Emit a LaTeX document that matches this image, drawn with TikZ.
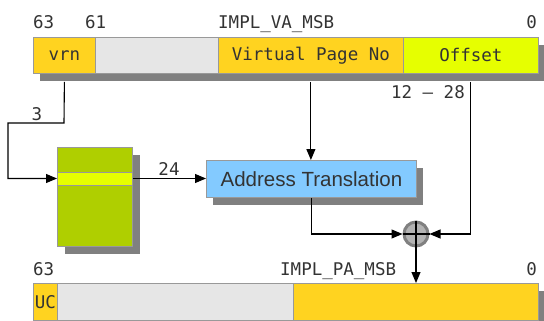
\documentclass[tikz,border=0pt]{standalone}
\usepackage{fontspec}
\setmainfont{Liberation Sans}
\newfontfamily\regfont{DejaVu Sans Mono}
\usetikzlibrary{arrows.meta}

\definecolor{gold}{HTML}{FFD320}
\definecolor{pale}{HTML}{E6E6E6}
\definecolor{lime}{HTML}{E6FF00}
\definecolor{olive}{HTML}{AFCF00}
\definecolor{sky}{HTML}{83CAFF}
\definecolor{shade}{HTML}{808080}
\definecolor{edge}{HTML}{999999}
\definecolor{ink}{HTML}{333333}

\tikzset{
  field/.style={draw=edge, line width=0.8pt, inner sep=0pt, text=ink,
    font=\regfont\fontsize{17.5}{20}\selectfont},
  bitlabel/.style={inner sep=0pt, text=ink, font=\regfont\fontsize{17.5}{20}\selectfont},
  wire/.style={draw=black, line width=1.1pt},
  arr/.style={wire, -{Triangle[length=11pt,width=9pt]}},
  shadowbox/.style={fill=shade, draw=none},
}

\begin{document}
\begin{tikzpicture}[x=1pt, y=-1pt]
\useasboundingbox (0,0) rectangle (544,321);
\clip (0,0) rectangle (544,321);

% ---------- virtual address register ----------
\fill[shadowbox] (40,45) rectangle (546,81);
\node[field, fill=gold, minimum width=62pt, minimum height=36pt, anchor=north west] (vrn) at (33,37) {vrn};
\node[field, fill=pale, minimum width=123pt, minimum height=36pt, anchor=north west] (vgap) at (95,37) {};
\node[field, fill=gold, minimum width=185pt, minimum height=36pt, anchor=north west] (vpn) at (218,37) {Virtual Page No};
\node[field, fill=lime, minimum width=135pt, minimum height=36pt, anchor=north west] (off) at (403,37) {Offset};

\node[bitlabel, anchor=base west] (v63) at (33,29) {63};
\node[bitlabel, anchor=base west] (v61) at (85,29) {61};
\node[bitlabel, anchor=base west] (vmsb) at (218,29) {IMPL\_VA\_MSB};
\node[bitlabel, anchor=base east] (v0) at (537,29) {0};

% ---------- region table ----------
\fill[shadowbox] (65,155) rectangle (140,254);
\node[draw=edge, line width=0.8pt, fill=olive, minimum width=75pt, minimum height=99pt, anchor=north west, inner sep=0pt] (rr) at (57,147) {};
\node[draw=edge, line width=0.8pt, fill=lime, minimum width=75pt, minimum height=13pt, inner sep=0pt] (row) at (rr.north |- 0,178.5) {};

% ---------- address translation ----------
\fill[shadowbox] (213,168) rectangle (423,205);
\node[draw=edge, line width=0.8pt, fill=sky, minimum width=210pt, minimum height=37pt, anchor=north west, inner sep=0pt, text=ink, font=\fontsize{20.5}{24}\selectfont] (xlat) at (206,160) {Address Translation};

% ---------- adder ----------
\node[circle, draw=shade, line width=3pt, fill=shade!60, minimum size=24pt, inner sep=0pt] (add) at (416,234) {};
\draw[shade, line width=2.5pt] (add.north) -- (add.south) (add.west) -- (add.east);

% ---------- physical address register ----------
\fill[shadowbox] (40,291) rectangle (546,330);
\node[field, fill=gold, minimum width=24pt, minimum height=37pt, anchor=north west] (uc) at (33,283) {UC};
\node[field, fill=pale, minimum width=236pt, minimum height=37pt, anchor=north west] (pgap) at (57,283) {};
\node[field, fill=gold, minimum width=245pt, minimum height=37pt, anchor=north west] (ppn) at (293,283) {};

\node[bitlabel, anchor=base west] (p63) at (33,275) {63};
\node[bitlabel, anchor=base west] (pmsb) at (280,275) {IMPL\_PA\_MSB};
\node[bitlabel, anchor=base east] (p0) at (537,275) {0};

% ---------- connectors ----------
\coordinate (k1) at (64,123);
\coordinate (k2) at (8,123);
\coordinate (k3) at (8,178.5);
\draw[arr] ([yshift=-8pt]vrn.south) -- (k1) -- (k2) -- (k3) -- (row.west);
\node[bitlabel, anchor=base] (lab3) at (37,121) {3};

\draw[arr] (row.east) -- (xlat.west |- row.east);
\node[bitlabel, anchor=base] (lab24) at (169,175) {24};

\draw[arr] ([yshift=-8pt]vpn.south) -- (xlat.north -| vpn.south);

\coordinate (j1) at (xlat.south |- add.west);
\draw[arr] (xlat.south) -- (j1) -- (add.west);

\coordinate (j2) at (off.south |- add.east);
\draw[arr] ([yshift=-8pt]off.south) -- (j2) -- (add.east);
\node[bitlabel, anchor=base east] (lab12) at (465,99) {12 – 28};

\draw[arr] (add.south) -- (add.south |- ppn.north);
\end{tikzpicture}
\end{document}
